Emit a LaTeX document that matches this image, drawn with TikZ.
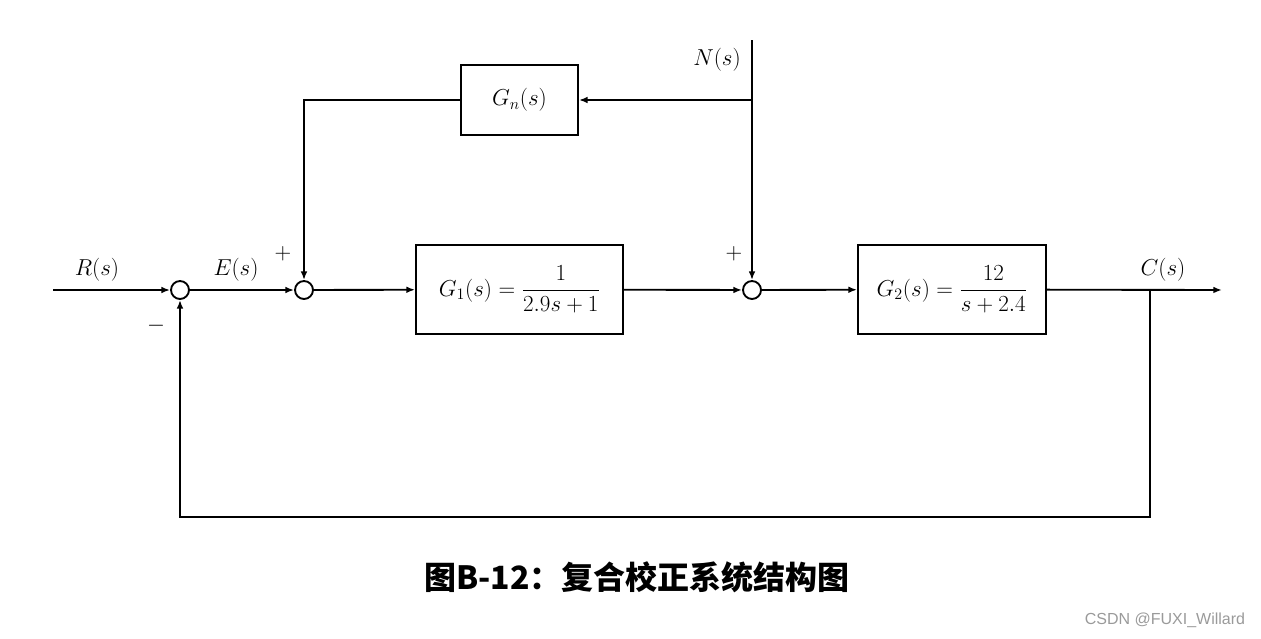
\documentclass[tikz,border=0pt]{standalone}
\usepackage{amsmath}
\usepackage{fontspec}
\newfontfamily\cjk{Noto Sans CJK SC}
\newfontfamily\wmfont{Liberation Sans}
\usetikzlibrary{arrows.meta}
\definecolor{wmgray}{HTML}{9A9A9A}

\tikzset{every picture/.style={line width=1.4pt}}
\tikzset{
  blk/.style={draw, minimum height=66.75pt, inner sep=2pt, font=\LARGE},
  sumpt/.style={draw, circle, inner sep=0pt, minimum size=13.5pt},
  sig/.style={-{Latex[length=6.5pt,width=5pt]}},
  lbl/.style={font=\LARGE, inner sep=1pt}
}

\begin{document}
\begin{tikzpicture}[x=0.75pt,y=0.75pt,yscale=-1,xscale=1]
\path[use as bounding box] (0,0) rectangle (1261,639);

%Shape: Circle [id:sum_e]
\node[sumpt] (sume) at (180,290) {};
%Shape: Circle [id:sum_n1]
\node[sumpt] (sumf) at (304,290) {};
%Shape: Circle [id:sum_n2]
\node[sumpt] (sumd) at (752,290) {};

%Shape: Rectangle [id:blk_gn]
\node[blk, minimum width=87.75pt, minimum height=52.5pt] (gn) at (519.5,100) {$G_n(s)$};
%Shape: Rectangle [id:blk_g1]
\node[blk, minimum width=155.25pt] (gone) at (519.5,289.5) {$G_1(s)=\dfrac{1}{2.9s+1}$};
%Shape: Rectangle [id:blk_g2]
\node[blk, minimum width=141pt] (gtwo) at (952,289.5) {$G_2(s)=\dfrac{12}{s+2.4}$};

% free ends and branch points
\coordinate (rin) at (53,290);
\coordinate (cout) at (1222,290);
\coordinate (ctap) at (1150,290);
\coordinate (nin) at (752,40);
\coordinate (ntap) at (752,100);

%Straight Lines [id:main_path]
\draw[sig] (rin) -- (sume);
\draw[sig] (sume) -- (sumf);
\draw[sig] (sumf) -- (gone);
\draw[sig] (gone) -- (sumd);
\draw[sig] (sumd) -- (gtwo);
\draw[sig] (gtwo) -- (cout);
%Straight Lines [id:feedback]
\draw[sig] (ctap) -- ++(0,227) -| (sume);
%Straight Lines [id:disturbance]
\draw[sig] (nin) -- (sumd);
\draw[sig] (ntap) -- (gn);
\draw[sig] (gn) -| (sumf);

% Text Node
\node[lbl] (rlbl) at (97,270) {$R(s)$};
% Text Node
\node[lbl] (elbl) at (236,270) {$E(s)$};
% Text Node
\node[lbl] (nlbl) at (717,60) {$N(s)$};
% Text Node
\node[lbl] (clbl) at (1163,270) {$C(s)$};
% Text Node
\node[lbl] (pone) at (283,254) {$+$};
% Text Node
\node[lbl] (ptwo) at (734,254) {$+$};
% Text Node
\node[lbl] (mone) at (156,326) {$-$};

% Text Node
\node[font=\cjk\bfseries\fontsize{24}{28}\selectfont] (cap) at (637,577) {图B-12：复合校正系统结构图};
% Text Node
\node[font=\wmfont\fontsize{12}{14}\selectfont, text=wmgray] (wm) at (1165,620) {CSDN @FUXI\_Willard};

\end{tikzpicture}
\end{document}
